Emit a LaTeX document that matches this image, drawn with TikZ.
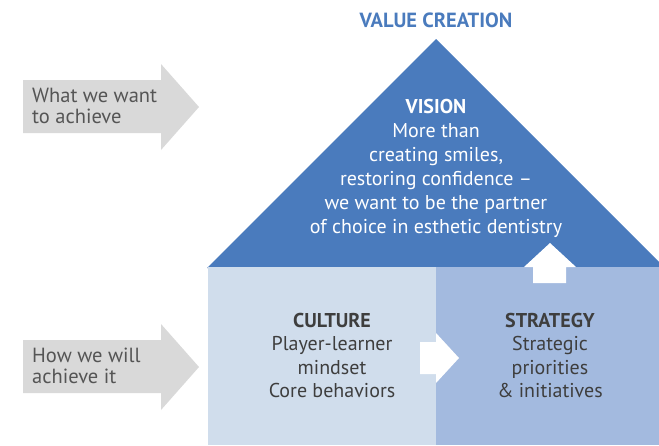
\documentclass[tikz,border=0pt]{standalone}
\usepackage{fontspec}
\setmainfont{PT Sans}
\usetikzlibrary{positioning}

\definecolor{roofblue}{RGB}{74,123,189}
\definecolor{cultureblue}{RGB}{208,221,236}
\definecolor{strategyblue}{RGB}{163,186,223}
\definecolor{arrowgray}{RGB}{217,217,217}
\definecolor{labelgray}{RGB}{85,85,85}
\definecolor{textdark}{RGB}{62,62,62}

\tikzset{
	sidelabel/.style={anchor=north west, align=left, inner sep=0pt, text=labelgray, font=\fontsize{20.5}{20.5}\selectfont},
	pillartext/.style={anchor=north, align=center, inner sep=0pt, text=textdark, font=\fontsize{20}{23.5}\selectfont},
	rooftext/.style={anchor=north, align=center, inner sep=0pt, text=white, font=\fontsize{20}{24}\selectfont}
}

\begin{document}
\begin{tikzpicture}[x=1pt, y=-1pt]
				\useasboundingbox (0,0) rectangle (659,445);
				\clip (0,0) rectangle (659,445);
				% Roof and the two pillars
				\fill[roofblue] (436,39) -- (665,268) -- (207,268) -- cycle;
				\fill[cultureblue] (208,267) rectangle (436,445);
				\fill[strategyblue] (436,267) rectangle (665,445);
				% White arrows between the parts
				\fill[white] (533,283) -- (533,267) -- (524,267) -- (550,243) -- (576,267) -- (566,267) -- (566,283) -- cycle;
				\fill[white] (420,342) -- (436,342) -- (436,333) -- (459,358) -- (436,383) -- (436,374) -- (420,374) -- cycle;
				% Gray arrows on the left
				\fill[arrowgray] (23,80) -- (161,80) -- (161,64) -- (199,107) -- (161,150) -- (161,133) -- (23,133) -- cycle;
				\fill[arrowgray] (23,340) -- (161,340) -- (161,324) -- (199,367) -- (161,410) -- (161,393) -- (23,393) -- cycle;
				\node[sidelabel] (want) at (32,88) {What we want\\to achieve};
				\node[sidelabel] (how) at (32,348) {How we will\\achieve it};
				% Texts
				\node[anchor=base, inner sep=0pt, text=roofblue, font=\fontsize{20.5}{20}\selectfont\bfseries] (value) at (436,27) {VALUE CREATION};
				\node[rooftext] (vision) at (436,99) {\textbf{VISION}\\More than\\creating smiles,\\restoring confidence --\\we want to be the partner\\of choice in esthetic dentistry};
				\node[pillartext] (culture) at (332,313) {\textbf{CULTURE}\\Player-learner\\mindset\\Core behaviors};
				\node[pillartext] (strategy) at (550,313) {\textbf{STRATEGY}\\Strategic\\priorities\\\& initiatives};
			\end{tikzpicture}
\end{document}
